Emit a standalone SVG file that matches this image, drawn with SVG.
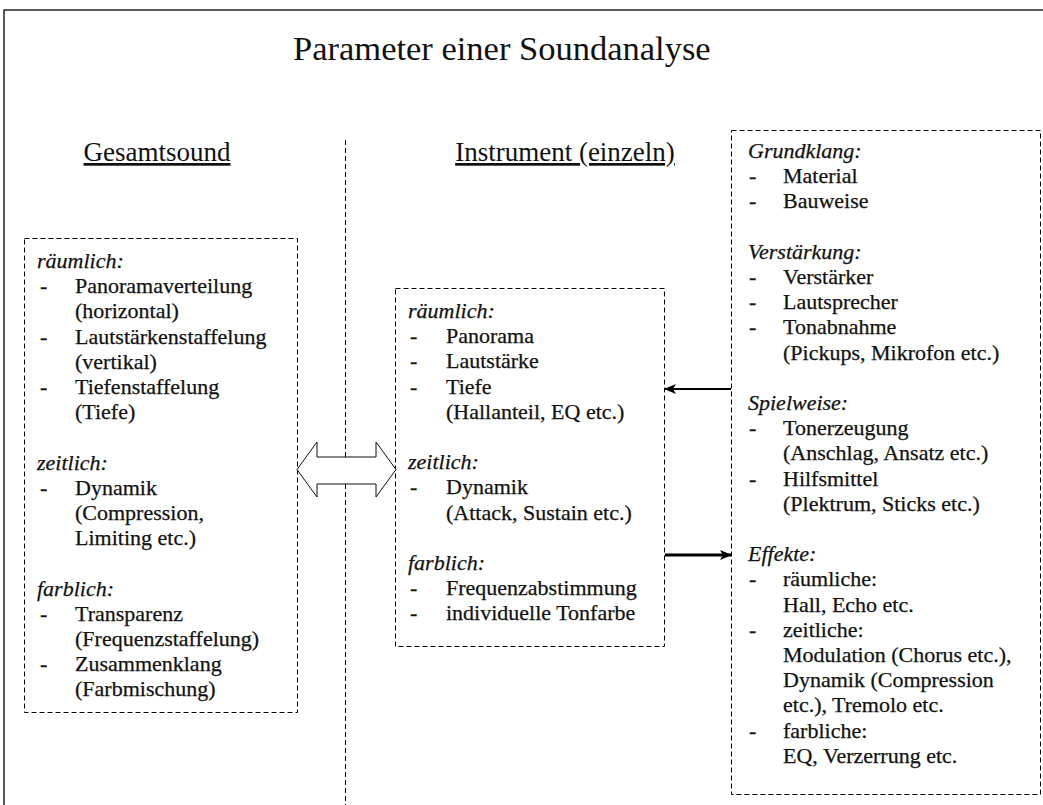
<svg xmlns="http://www.w3.org/2000/svg" width="1043" height="805" viewBox="0 0 1043 805">
  <defs>
    <style>
      .t { font-family: "Liberation Serif", "Times New Roman", serif; font-size: 22px; fill: #111; stroke: #111; stroke-width: 0.25; }
      .hd { font-style: italic; }
      .title { font-family: "Liberation Serif", "Times New Roman", serif; font-size: 34.5px; fill: #111; }
      .col { font-family: "Liberation Serif", "Times New Roman", serif; font-size: 27px; fill: #111; text-decoration: underline; text-anchor: middle; }
      .box { fill: none; stroke: #000; stroke-width: 1; stroke-dasharray: 5 3; }
      .frame { fill: none; stroke: #222; stroke-width: 1.5; }
    </style>
    <marker id="ah" markerUnits="userSpaceOnUse" markerWidth="12" markerHeight="10" refX="11" refY="5" orient="auto">
      <path d="M0,0 L12,5 L0,10 L3,5 Z" fill="#000"/>
    </marker>
  </defs>
  <rect width="1043" height="805" fill="#fff"/>
  <path class="frame" d="M4,805 V10 H1043"/>

  <text class="title" x="293" y="60">Parameter einer Soundanalyse</text>
  <text class="col" x="157" y="161">Gesamtsound</text>
  <text class="col" x="565" y="161">Instrument (einzeln)</text>

  <line x1="345.5" y1="140" x2="345.5" y2="805" stroke="#000" stroke-width="1" stroke-dasharray="5 3"/>

  <g id="gesamtsound">
    <rect class="box" x="24.5" y="238.5" width="273" height="474"/>
    <text class="t hd" x="37" y="268">räumlich:</text>
    <text class="t" x="40" y="293.2">-</text><text class="t" x="75" y="293.2">Panoramaverteilung</text>
    <text class="t" x="75" y="318.4">(horizontal)</text>
    <text class="t" x="40" y="343.6">-</text><text class="t" x="75" y="343.6">Lautstärkenstaffelung</text>
    <text class="t" x="75" y="368.8">(vertikal)</text>
    <text class="t" x="40" y="394">-</text><text class="t" x="75" y="394">Tiefenstaffelung</text>
    <text class="t" x="75" y="419.2">(Tiefe)</text>
    <text class="t hd" x="37" y="469.6">zeitlich:</text>
    <text class="t" x="40" y="494.8">-</text><text class="t" x="75" y="494.8">Dynamik</text>
    <text class="t" x="75" y="520">(Compression,</text>
    <text class="t" x="75" y="545.2">Limiting etc.)</text>
    <text class="t hd" x="37" y="595.6">farblich:</text>
    <text class="t" x="40" y="620.8">-</text><text class="t" x="75" y="620.8">Transparenz</text>
    <text class="t" x="75" y="646">(Frequenzstaffelung)</text>
    <text class="t" x="40" y="671.2">-</text><text class="t" x="75" y="671.2">Zusammenklang</text>
    <text class="t" x="75" y="696.4">(Farbmischung)</text>
  </g>

  <g id="instrument">
    <rect class="box" x="395.5" y="288.5" width="269" height="358"/>
    <text class="t hd" x="408" y="318">räumlich:</text>
    <text class="t" x="410" y="343.2">-</text><text class="t" x="446" y="343.2">Panorama</text>
    <text class="t" x="410" y="368.4">-</text><text class="t" x="446" y="368.4">Lautstärke</text>
    <text class="t" x="410" y="393.6">-</text><text class="t" x="446" y="393.6">Tiefe</text>
    <text class="t" x="446" y="418.8">(Hallanteil, EQ etc.)</text>
    <text class="t hd" x="408" y="469.2">zeitlich:</text>
    <text class="t" x="410" y="494.4">-</text><text class="t" x="446" y="494.4">Dynamik</text>
    <text class="t" x="446" y="519.6">(Attack, Sustain etc.)</text>
    <text class="t hd" x="408" y="570">farblich:</text>
    <text class="t" x="410" y="595.2">-</text><text class="t" x="446" y="595.2">Frequenzabstimmung</text>
    <text class="t" x="410" y="620.4">-</text><text class="t" x="446" y="620.4">individuelle Tonfarbe</text>
  </g>

  <g id="einflussfaktoren">
    <rect class="box" x="731.5" y="130.5" width="309" height="664"/>
    <text class="t hd" x="748" y="158">Grundklang:</text>
    <text class="t" x="749" y="183.2">-</text><text class="t" x="783" y="183.2">Material</text>
    <text class="t" x="749" y="208.4">-</text><text class="t" x="783" y="208.4">Bauweise</text>
    <text class="t hd" x="748" y="258.8">Verstärkung:</text>
    <text class="t" x="749" y="284">-</text><text class="t" x="783" y="284">Verstärker</text>
    <text class="t" x="749" y="309.2">-</text><text class="t" x="783" y="309.2">Lautsprecher</text>
    <text class="t" x="749" y="334.4">-</text><text class="t" x="783" y="334.4">Tonabnahme</text>
    <text class="t" x="783" y="359.6">(Pickups, Mikrofon etc.)</text>
    <text class="t hd" x="748" y="410">Spielweise:</text>
    <text class="t" x="749" y="435.2">-</text><text class="t" x="783" y="435.2">Tonerzeugung</text>
    <text class="t" x="783" y="460.4">(Anschlag, Ansatz etc.)</text>
    <text class="t" x="749" y="485.6">-</text><text class="t" x="783" y="485.6">Hilfsmittel</text>
    <text class="t" x="783" y="510.8">(Plektrum, Sticks etc.)</text>
    <text class="t hd" x="748" y="561.2">Effekte:</text>
    <text class="t" x="749" y="586.4">-</text><text class="t" x="783" y="586.4">räumliche:</text>
    <text class="t" x="783" y="611.6">Hall, Echo etc.</text>
    <text class="t" x="749" y="636.8">-</text><text class="t" x="783" y="636.8">zeitliche:</text>
    <text class="t" x="783" y="662">Modulation (Chorus etc.),</text>
    <text class="t" x="783" y="687.2">Dynamik (Compression</text>
    <text class="t" x="783" y="712.4">etc.), Tremolo etc.</text>
    <text class="t" x="749" y="737.6">-</text><text class="t" x="783" y="737.6">farbliche:</text>
    <text class="t" x="783" y="762.8">EQ, Verzerrung etc.</text>
  </g>

  <g id="connectors">
    <polygon points="297,469.5 317,442 317,457 376,457 376,442 396,469.5 376,497 376,484 317,484 317,497" fill="#fff" stroke="#111" stroke-width="1"/>
    <line x1="731" y1="389" x2="665" y2="389" stroke="#000" stroke-width="2" marker-end="url(#ah)"/>
    <line x1="665" y1="555" x2="731" y2="555" stroke="#000" stroke-width="3" marker-end="url(#ah)"/>
  </g>
</svg>
